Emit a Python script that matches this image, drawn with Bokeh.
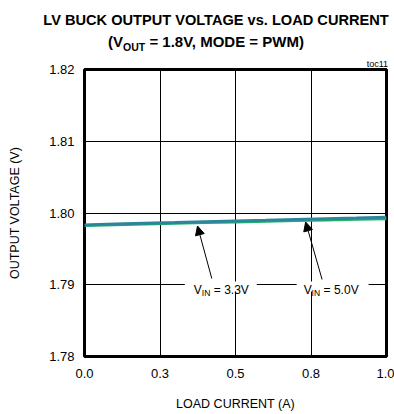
from bokeh.plotting import figure
from bokeh.layouts import column
from bokeh.models import Range1d, FixedTicker, Label, Arrow, NormalHead, BoxAnnotation, Div
from bokeh.embed import file_html
from bokeh.resources import INLINE

# ---- data ----
load_current = [0.0, 0.1, 0.2, 0.3, 0.4, 0.5, 0.6, 0.7, 0.8, 0.9, 1.0]
vout_vin33 = [1.79833, 1.79845, 1.79856, 1.79866, 1.79877, 1.79888, 1.79898, 1.79909, 1.79919, 1.79929, 1.79940]
vout_vin50 = [1.79826, 1.79837, 1.79847, 1.79857, 1.79866, 1.79876, 1.79886, 1.79895, 1.79904, 1.79913, 1.79921]
x_ticks = [0.0, 0.25, 0.5, 0.75, 1.0]
x_tick_labels = ["0.0", "0.3", "0.5", "0.8", "1.0"]
y_ticks = [1.78, 1.79, 1.80, 1.81, 1.82]
y_tick_labels = ["1.78", "1.79", "1.80", "1.81", "1.82"]
title_line1 = "LV BUCK OUTPUT VOLTAGE vs. LOAD CURRENT"
title_vin = ["3.3V", "5.0V"]

FONT = "Liberation Sans"
W = 394
TOP_H = 56

# ---------------- title strip (HTML, real text) ----------------
html = f"""
<div style="position:relative;width:{W}px;height:{TOP_H}px;font-family:'Liberation Sans',Arial,sans-serif;color:black;">
  <div style="position:absolute;left:0px;top:12.6px;width:432px;text-align:center;font-size:14.6px;font-weight:bold;line-height:1;white-space:nowrap;">{title_line1}</div>
  <div style="position:absolute;left:0px;top:34.3px;width:412px;text-align:center;font-size:15px;font-weight:bold;line-height:1;white-space:pre;">(V<span style="font-size:10.5px;position:relative;top:3.5px;">OUT</span> = 1.8V, MODE = PWM)</div>
</div>
"""
t = Div(text=html, width=W, height=TOP_H, margin=0)

# ---------------- main plot ----------------
FL, FR, FT, FB = 83.5, 386.0, 69.0, 356.0   # frame in page pixels
X0, X1, Y0, Y1 = 0.0, 1.0, 1.78, 1.82


def dx(px):
    return X0 + (px - FL) / (FR - FL) * (X1 - X0)


def dy(py):
    return Y0 + (FB - py) / (FB - FT) * (Y1 - Y0)


p = figure(width=W, height=414 - TOP_H, output_backend="svg", toolbar_location=None,
           x_range=Range1d(X0, X1), y_range=Range1d(Y0, Y1),
           min_border_left=84, min_border_right=8, min_border_top=69 - TOP_H,
           min_border_bottom=58, margin=0)
p.background_fill_color = "white"
p.border_fill_color = "white"
p.outline_line_color = "black"
p.outline_line_width = 3

for ax in (p.xaxis[0], p.yaxis[0]):
    ax.axis_line_color = None
    ax.major_tick_line_color = None
    ax.minor_tick_line_color = None
    ax.major_tick_out = 0
    ax.major_tick_in = 0
    ax.major_label_text_font = FONT
    ax.major_label_text_font_size = "13px"
    ax.major_label_text_color = "black"
    ax.axis_label_text_font = FONT
    ax.axis_label_text_font_size = "12.5px"
    ax.axis_label_text_font_style = "normal"
    ax.axis_label_text_color = "black"

p.xaxis.ticker = FixedTicker(ticks=x_ticks)
p.xaxis.major_label_overrides = dict(zip(x_ticks, x_tick_labels))
p.yaxis.ticker = FixedTicker(ticks=y_ticks)
p.yaxis.major_label_overrides = dict(zip(y_ticks, y_tick_labels))
p.xaxis.axis_label = "LOAD CURRENT (A)"
p.yaxis.axis_label = "OUTPUT VOLTAGE (V)"
p.xaxis.major_label_standoff = 12
p.yaxis.major_label_standoff = 10
p.xaxis.axis_label_standoff = 16
p.yaxis.axis_label_standoff = 24

p.xgrid.ticker = FixedTicker(ticks=x_ticks)
p.ygrid.ticker = FixedTicker(ticks=y_ticks)
for g in (p.xgrid[0], p.ygrid[0]):
    g.grid_line_color = "black"
    g.grid_line_width = 1

p.line(load_current, vout_vin50, line_color="#1fb26c", line_width=3)
p.line(load_current, vout_vin33, line_color="#2c8599", line_width=3)

# white gaps in the 1.79 grid line behind the annotation texts
p.add_layout(BoxAnnotation(left=dx(184), right=dx(256), top=dy(281), bottom=dy(291),
                           fill_color="white", fill_alpha=1, line_color=None))
p.add_layout(BoxAnnotation(left=dx(296), right=dx(368), top=dy(281), bottom=dy(291),
                           fill_color="white", fill_alpha=1, line_color=None))

# arrows
for (tx, ty, hx, hy) in [(211, 278, 196.7, 225.5), (321.5, 279, 305, 221.5)]:
    p.add_layout(Arrow(x_start=dx(tx), y_start=dy(ty), x_end=dx(hx), y_end=dy(hy),
                       line_color="black", line_width=1,
                       end=NormalHead(size=9, fill_color="black", line_color="black")))

# "toc11" tag in the top border area (above the frame)
p.add_layout(Label(x=387 - FL, y=69 - 63, x_units="screen", y_units="screen",
                   text="toc11", text_font=FONT, text_font_size="9px", text_color="black",
                   text_align="right", text_baseline="alphabetic"), "above")


def lab(px, py, text, size, style="normal", align="left"):
    p.add_layout(Label(x=dx(px), y=dy(py), text=text, text_font=FONT,
                       text_font_size=size, text_font_style=style, text_color="black",
                       text_align=align, text_baseline="alphabetic"))


# V_IN annotations
for x0, v in zip([193, 303], title_vin):
    lab(x0, 289, "V", "12px")
    lab(x0 + 8, 292, "IN", "8.5px")
    lab(x0 + 20, 289, "= " + v, "12px")

layout = column(t, p, spacing=0)
open("out.html", "w").write(file_html(layout, INLINE))
